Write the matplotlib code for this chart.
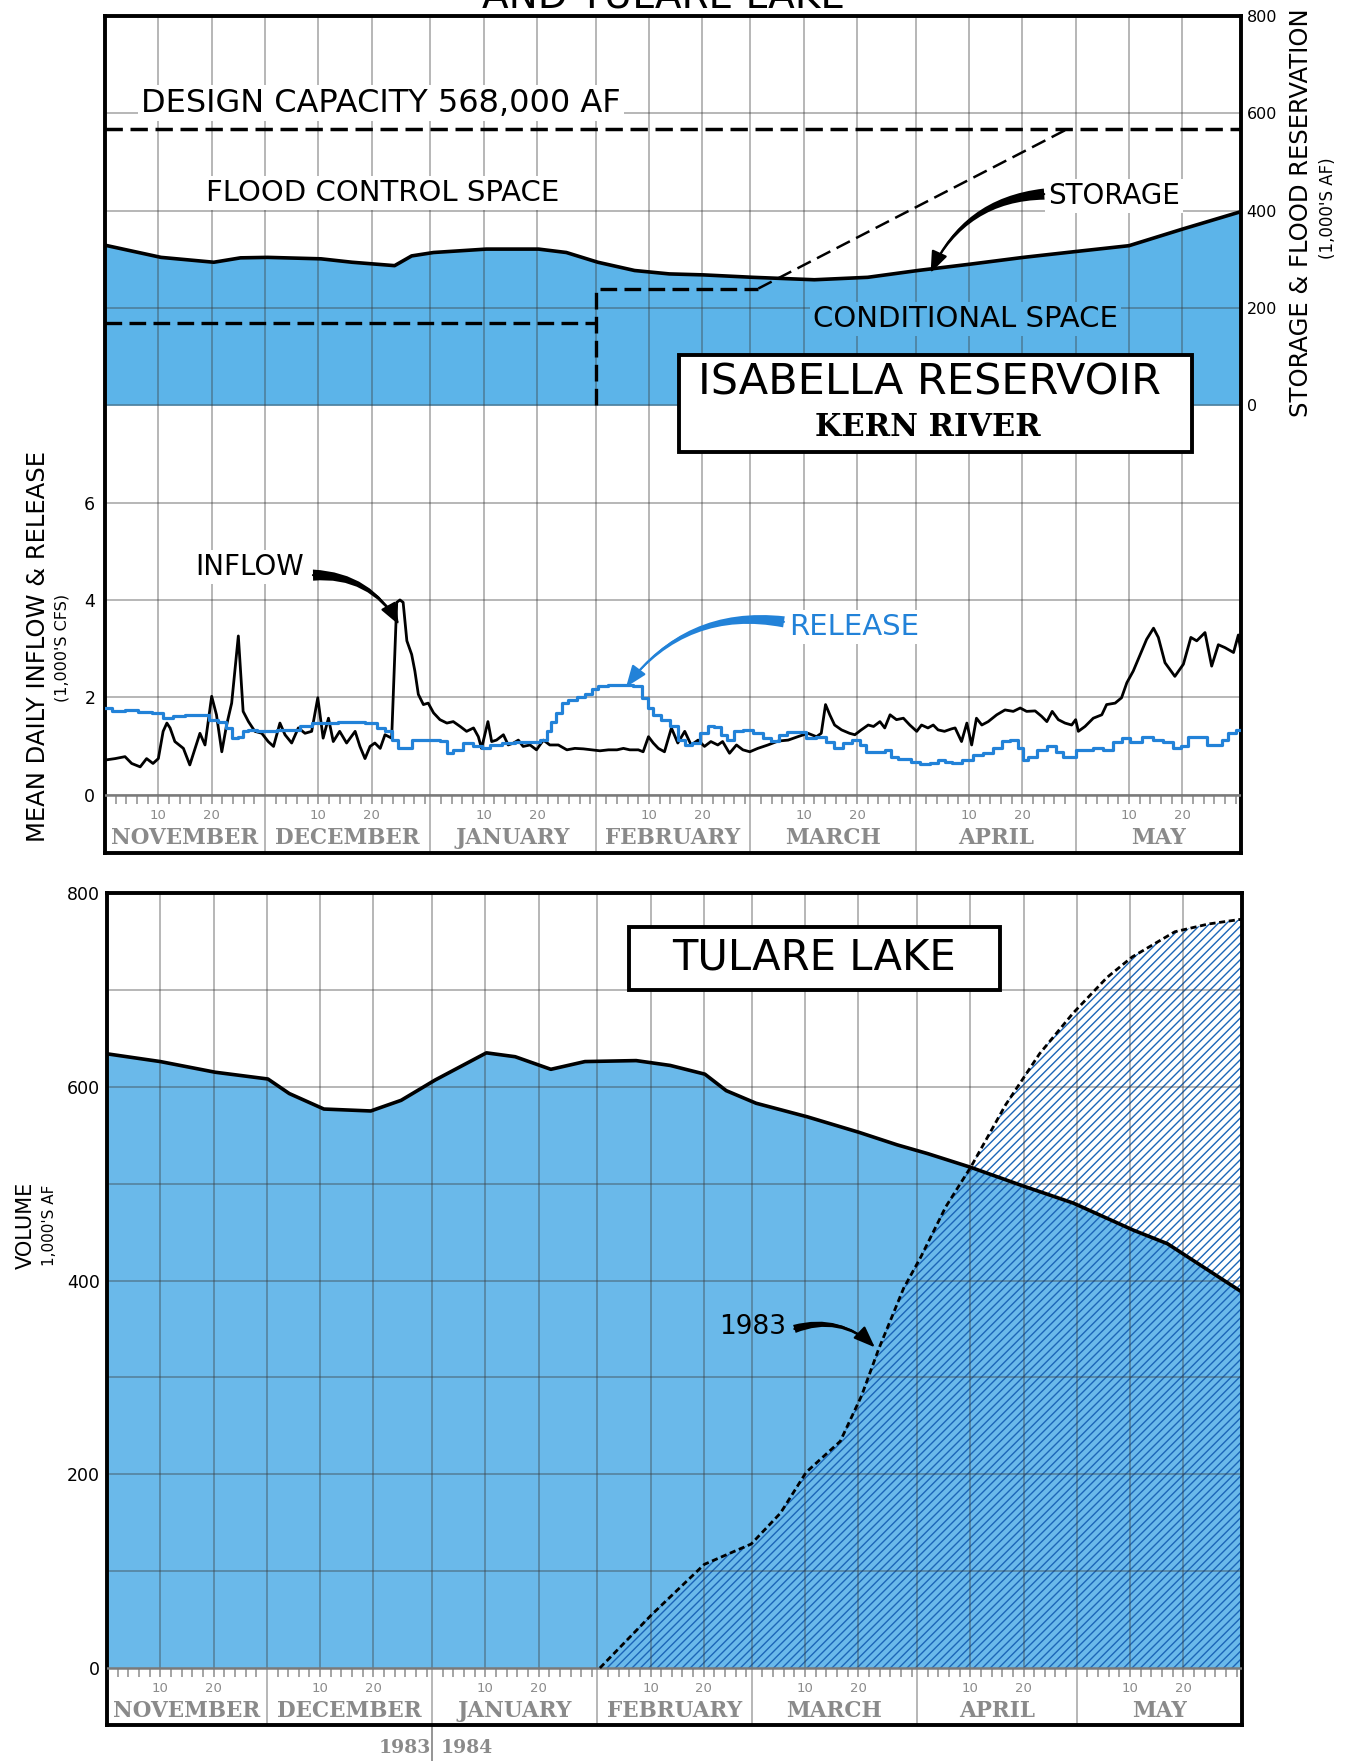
import numpy as np
import matplotlib
matplotlib.use("Agg")
import matplotlib.pyplot as plt
from matplotlib.patches import Rectangle

W, H = 1345, 1761
BLUE = "#5cb4e9"
BLUE2 = "#6ab9ea"
REL = "#2282d8"
HATCH = "#1c66b8"
GREY_TXT = "#8a8a8a"
GRID = dict(color="#3a3a3a", alpha=0.40, lw=1.3, zorder=2, solid_capstyle="butt")
plt.rcParams["font.family"] = "DejaVu Sans"
plt.rcParams["hatch.linewidth"] = 1.0

# water year 1983-84, day 0 = Nov 1 (Feb 1984 has 29 days)
MONTHS = ["NOVEMBER", "DECEMBER", "JANUARY", "FEBRUARY", "MARCH", "APRIL", "MAY"]
MONTH_DAYS = [30, 31, 31, 29, 31, 30, 31]

# Isabella storage, 1,000's AF
STOR_DAY = [0, 10.5, 20.4, 25.4, 30.5, 40.5, 46.3, 54.3, 57.5, 61.6, 71.5, 81.3, 86.5, 92.4,
            99.3, 105.8, 112.2, 121.5, 133, 143, 152.4, 162.2, 172.2, 182, 192, 202, 213]
STORAGE = [329, 304, 294, 303, 304, 301, 294, 287, 307, 314, 321, 321, 314, 294,
           277, 270, 268, 263, 258, 263, 277, 290, 304, 316, 328, 362, 398]

# flood reservation lines, 1,000's AF
DESIGN_CAP = 568
RES_A_DAY, RES_A = [0, 92], [170, 170]
RES_B_DAY, RES_B = [92, 92, 122.5], [0, 240, 240]
RES_C_DAY, RES_C = [122.5, 180.5], [240, 568]

# mean daily inflow, 1,000's cfs
INFLOW_DAY = [0, 1.9, 3.75, 5, 6.6, 7.8, 9, 10, 10.9, 11.6, 12.2, 13.1, 14.7, 15.9, 16.9, 17.8,
              18.75, 20, 20.9, 21.9, 22.8, 23.75, 25, 25.9, 26.9, 28.1, 29.4, 30.6, 31.6, 32.8,
              33.75, 35, 36.25, 37.5, 38.75, 39.9, 40.9, 41.9, 42.8, 44, 45.3, 46.9, 47.8, 48.75,
              49.7, 50.6, 51.6, 52.5,
              53.75, 54.7, 55.3, 55.9, 56.6, 57.5, 58.1, 58.75, 59.7, 60.6, 61.6, 62.8, 64.1,
              65.3, 66.6, 67.8, 69.1, 70, 70.6, 71.8, 72.5, 73.4, 74.7, 75.6, 76.6, 77.5, 78.4,
              79.7, 80.9, 82.2, 83.4, 85, 86.6, 88.1, 89.7, 91.25, 92.8, 94.4, 96, 97.2, 98.4,
              100, 100.9, 101.9, 102.8, 103.75, 104.9,
              106.2, 107.4, 108.7, 109.9, 111.2, 112.4, 113.6, 114.9, 115.8, 117.1, 118.4, 119.6,
              120.9, 122.4, 124.3, 126.2, 128.1, 129.9, 131.8, 133.4, 134.3, 135.1, 135.9, 136.8,
              138.1, 139.6, 140.6, 141.8, 143.1, 144.1, 145.3, 146.2, 147.2, 148.4, 149.7, 150.9,
              152.2, 153.1, 154.3, 155.3, 156.2, 157.4, 158.7,
              159.4, 160.6, 161.6, 162.5, 163.4, 164.4, 165.6, 167.2, 168.75, 170.3, 171.6, 172.8,
              174.4, 175.6, 176.6, 177.6, 178.75, 180, 181.25, 182, 182.5, 183.75, 185.3, 186.9,
              187.8, 189.4, 190.6, 191.6, 192.8, 194.1, 195.3, 196.6, 197.5, 198.75, 200.6, 202.2,
              203.6, 204.7, 206.25, 207.5, 208.75, 210, 211.6, 212.5, 213]
INFLOW = [0.71, 0.74, 0.78, 0.64, 0.57, 0.74, 0.64, 0.74, 1.30, 1.47, 1.37, 1.09, 0.95, 0.61, 0.95,
          1.26, 1.02, 2.02, 1.64, 0.88, 1.43, 1.88, 3.26, 1.71, 1.50, 1.30, 1.26, 1.09, 0.99, 1.47,
          1.23, 1.06, 1.37, 1.26, 1.30, 1.99, 1.16, 1.57, 1.09, 1.30, 1.06, 1.30, 0.99, 0.74, 0.99,
          1.06, 0.95, 1.23,
          1.16, 3.95, 4.0, 3.95, 3.16, 2.88, 2.54, 2.06, 1.85, 1.88, 1.68, 1.54, 1.47, 1.50, 1.40,
          1.30, 1.37, 1.19, 0.95, 1.50, 1.09, 1.12, 1.23, 1.02, 1.06, 1.12, 0.99, 1.02, 0.92, 1.12,
          1.02, 1.02, 0.92, 0.95, 0.94, 0.92, 0.90, 0.92, 0.92, 0.95, 0.92, 0.92, 0.88, 1.19, 1.06,
          0.95, 0.88,
          1.37, 1.06, 1.30, 1.02, 1.12, 0.99, 1.09, 1.02, 1.09, 0.85, 1.02, 0.92, 0.88, 0.95, 1.02,
          1.10, 1.12, 1.19, 1.26, 1.19, 1.26, 1.85, 1.64, 1.43, 1.33, 1.26, 1.23, 1.33, 1.43, 1.40,
          1.50, 1.37, 1.64, 1.54, 1.57, 1.43, 1.30, 1.43, 1.37, 1.43, 1.33, 1.30, 1.35,
          1.37, 1.09, 1.47, 1.02, 1.57, 1.43, 1.50, 1.64, 1.74, 1.71, 1.78, 1.71, 1.72, 1.61, 1.50,
          1.71, 1.54, 1.47, 1.43, 1.54, 1.30, 1.40, 1.57, 1.64, 1.85, 1.88, 1.99, 2.30, 2.54, 2.88,
          3.19, 3.42, 3.23, 2.71, 2.43, 2.68, 3.23, 3.16, 3.33, 2.64, 3.08, 3.02, 2.92, 3.28, 2.92]

# mean daily release, 1,000's cfs
RELEASE_DAY = [0, 2.5, 5, 7.5, 10, 11.6, 13.75, 16.25, 18.75, 20.3, 21.9, 23.4, 24.4, 25.3, 26.3,
               27.5, 29.4, 31.25, 33.1, 35.6, 37.5, 40, 42.5, 45, 47.5, 50, 51.9,
               53.1, 54.4, 55.6, 56.9, 58.1, 60, 61.9, 63.75, 64.4, 66.25, 68.1, 70, 71.25, 73.1,
               75.6, 78.1, 80.6, 82.5, 83.1, 84.1, 85, 86.25, 87.5, 89.4, 90.6, 91.9, 93.1, 95.6,
               98.1, 100, 101.25, 102.2, 103.4, 105,
               106.8, 108.1, 109.3, 110.8, 112.4, 113.6, 114.9, 116.2, 117.1, 118.7, 120.6, 122.4,
               124.3, 125.6, 127.1, 128.7, 130.6, 132.4, 134.3, 135.9, 137.4, 139.3, 140.9, 142.1,
               143.4, 145.6, 146.8, 148.1, 149.3, 150.6, 151.8, 153.7, 155.6, 156.8, 158.1,
               159.4, 161.9, 163.75, 165.6, 167.5, 168.75, 170.6, 171.6, 172.5, 173.75, 175.6,
               177.5, 179.1, 180, 181.6, 182.5, 184.4, 186.25, 188.1, 190, 191.25, 193.1, 195.6,
               197.5, 199.4, 201, 202.5, 203.75, 205.6, 207.5, 208.75, 210, 211.25, 213]
RELEASE = [1.78, 1.71, 1.74, 1.70, 1.68, 1.57, 1.61, 1.64, 1.64, 1.54, 1.49, 1.37, 1.16, 1.19, 1.30,
           1.33, 1.30, 1.30, 1.33, 1.33, 1.40, 1.47, 1.47, 1.50, 1.50, 1.47, 1.37,
           1.30, 1.12, 0.95, 0.95, 1.12, 1.12, 1.12, 1.10, 0.85, 0.92, 1.06, 0.99, 0.95, 1.01,
           1.06, 1.08, 1.09, 1.12, 1.30, 1.50, 1.68, 1.88, 1.95, 2.00, 2.06, 2.16, 2.23, 2.26,
           2.26, 2.23, 1.99, 1.78, 1.64, 1.54,
           1.40, 1.12, 1.02, 1.06, 1.26, 1.40, 1.38, 1.23, 1.12, 1.30, 1.33, 1.26, 1.16, 1.10,
           1.23, 1.28, 1.28, 1.16, 1.19, 1.09, 0.95, 1.06, 1.12, 1.01, 0.88, 0.88, 0.92, 0.78,
           0.74, 0.74, 0.66, 0.62, 0.64, 0.71, 0.66,
           0.64, 0.71, 0.81, 0.85, 0.95, 1.10, 1.12, 0.95, 0.71, 0.78, 0.92, 0.99, 0.88, 0.78,
           0.78, 0.92, 0.92, 0.95, 0.92, 1.09, 1.16, 1.09, 1.19, 1.12, 1.09, 0.95, 0.99, 1.19,
           1.19, 1.02, 1.01, 1.12, 1.26, 1.33]

# Tulare Lake volume, 1,000's AF
T84_DAY = [0, 10, 20.3, 30.2, 34.2, 40.7, 49.5, 55.2, 61.6, 71.2, 76.6, 83.3, 89.7, 99.3, 105.7,
           112.2, 116.2, 121.8, 131.4, 141.1, 148.3, 154, 162, 171.7, 181.3, 192.6, 199, 213]
T84 = [634, 626, 615, 608, 593, 577, 575, 586, 607, 635, 631, 618, 626, 627, 622,
       613, 596, 583, 569, 553, 540, 531, 517, 498, 480, 452, 438, 388]
T83_DAY = [92.5, 102.2, 112.1, 120.9, 126.4, 131.2, 137.6, 141.6, 144.8, 149.5, 152.7, 157.4,
           162.2, 168.6, 175, 181.3, 187.7, 192.4, 200.4, 206.7, 213]
T83 = [0, 55, 107, 128, 160, 202, 234, 281, 329, 392, 424, 476,
       518, 581, 634, 676, 713, 734, 760, 768, 773]

NDAYS = sum(MONTH_DAYS)
STARTS = np.concatenate([[0], np.cumsum(MONTH_DAYS)])


def px_rect(left, top, right, bottom):
    return [left / W, 1 - bottom / H, (right - left) / W, (bottom - top) / H]


def fat_arrow(ax, tail, head, color, rad, width=0.8):
    ax.annotate("", xy=head, xytext=tail, zorder=7,
                arrowprops=dict(arrowstyle=f"wedge,tail_width={width},shrink_factor=0.45",
                                connectionstyle=f"arc3,rad={rad}", color=color, lw=0,
                                shrinkA=0, shrinkB=0))
    ax.annotate("", xy=head, xytext=tail, zorder=7,
                arrowprops=dict(arrowstyle="-|>,head_length=1.3,head_width=0.5",
                                connectionstyle=f"arc3,rad={rad}", color=color, lw=1.6,
                                shrinkA=0, shrinkB=0))


def month_band(ax, ppu, grid_ax=None, to_grid=lambda v: v, top=None):
    """ruler + day numbers + month names below the zero line; ppu = pixels per data unit"""
    g = grid_ax or ax
    lo = ax.get_ylim()[0]
    for s in STARTS[1:-1]:
        g.plot([s, s], [to_grid(lo), top], **GRID)
    for s, n, name in zip(STARTS[:-1], MONTH_DAYS, MONTHS):
        for d in (10, 20):
            g.plot([s + d, s + d], [to_grid(0), top], **GRID)
            ax.text(s + d, -21 / ppu, str(d), ha="center", va="center", fontsize=9.5,
                    color=GREY_TXT, zorder=3)
        ax.vlines(np.arange(s + 2, s + n, 2), -9 / ppu, 0, color="#8c8c8c", lw=1.1, zorder=3)
        ax.text(s + n / 2, -43 / ppu, name, ha="center", va="center", fontsize=15.5,
                family="DejaVu Serif", fontweight="bold", color=GREY_TXT, zorder=3)
    ax.axhline(0, color="#7a7a7a", lw=1.8, zorder=3)


fig = plt.figure(figsize=(W / 100, H / 100), dpi=100)

# ---------------- top panel: Isabella ----------------
FLOW_LIM = (-1.2, 16.0)
STOR_LIM = ((FLOW_LIM[0] - 8) * 100, (FLOW_LIM[1] - 8) * 100)
rect_top = px_rect(105, 16, 1241, 853)
ppu_top = (853 - 16) / (FLOW_LIM[1] - FLOW_LIM[0])

ax_s = fig.add_axes(rect_top)
ax_f = fig.add_axes(rect_top, sharex=ax_s)
ax_f.patch.set_visible(False)
ax_s.set_xlim(0, NDAYS)
ax_s.set_ylim(*STOR_LIM)
ax_f.set_ylim(*FLOW_LIM)

ax_s.fill_between(STOR_DAY, 0, STORAGE, color=BLUE, lw=0, zorder=1)
for v in (0, 200, 400, 600):
    ax_s.axhline(v, **GRID)
ax_s.plot(STOR_DAY, STORAGE, color="black", lw=2.6, zorder=5)
ax_s.axhline(DESIGN_CAP, color="black", lw=2.5, ls=(0, (5, 2.2)), zorder=4)
ax_s.plot(RES_A_DAY, RES_A, color="black", lw=2.4, ls=(0, (5, 2.2)), zorder=4)
ax_s.plot(RES_B_DAY, RES_B, color="black", lw=2.4, ls=(0, (5, 2.2)), zorder=4)
ax_s.plot(RES_C_DAY, RES_C, color="black", lw=1.8, ls=(0, (6, 2.8)), zorder=4)

white = dict(facecolor="white", edgecolor="none", pad=2)
ax_s.text(6.8, 621, "DESIGN CAPACITY 568,000 AF", fontsize=23, va="center", bbox=white, zorder=3)
ax_s.text(18.9, 437, "FLOOD CONTROL SPACE", fontsize=21, va="center", bbox=white, zorder=3)
ax_s.text(176.8, 430, "STORAGE", fontsize=20, va="center", bbox=white, zorder=3)
ax_s.text(132.8, 177, "CONDITIONAL SPACE", fontsize=21, va="center",
          bbox=dict(facecolor=BLUE, edgecolor="none", pad=2), zorder=3)
fat_arrow(ax_s, (176.1, 434), (154.8, 272), "black", 0.3)

for v in (0, 2, 4, 6):
    ax_f.axhline(v, **GRID)
month_band(ax_f, ppu_top, grid_ax=ax_s, to_grid=lambda f: (f - 8) * 100, top=STOR_LIM[1])
ax_f.plot(INFLOW_DAY, INFLOW, color="black", lw=2.0, zorder=5)
ax_f.plot(RELEASE_DAY, RELEASE, color=REL, lw=2.3, drawstyle="steps-mid", zorder=5)
ax_f.text(17, 4.68, "INFLOW", fontsize=20, va="center", bbox=white, zorder=6)
fat_arrow(ax_f, (39, 4.51), (55.1, 3.49), "black", -0.3)
ax_f.text(128.3, 3.44, "RELEASE", fontsize=21, va="center", color=REL, bbox=white, zorder=6)
fat_arrow(ax_f, (127.3, 3.55), (97.7, 2.21), REL, 0.3)

ax_f.add_patch(Rectangle((107.6, 7.04), 96.2, 1.99, facecolor="white", edgecolor="black",
                         lw=2.8, zorder=8))
ax_f.text(154.6, 8.46, "ISABELLA RESERVOIR", fontsize=31, ha="center", va="center", zorder=9)
ax_f.text(154.3, 7.55, "KERN RIVER", fontsize=22, family="DejaVu Serif", fontweight="bold",
          ha="center", va="center", zorder=9)

for sp in ax_s.spines.values():
    sp.set_visible(False)
for sp in ax_f.spines.values():
    sp.set_linewidth(2.8)
ax_s.set_xticks([])
ax_f.set_xticks([])
ax_f.set_yticks([0, 2, 4, 6])
ax_f.tick_params(axis="y", length=0, pad=7, labelsize=12.5)
ax_s.set_yticks([0, 200, 400, 600, 800])
ax_s.tick_params(axis="y", left=False, labelleft=False, right=False, labelright=True,
                 length=0, pad=4, labelsize=11.5)

fig.text(38 / W, 1 - 647 / H, "MEAN DAILY INFLOW & RELEASE", rotation=90, fontsize=17.5,
         ha="center", va="center")
fig.text(62 / W, 1 - 648 / H, "(1,000'S CFS)", rotation=90, fontsize=11.5,
         ha="center", va="center")
fig.text(1301 / W, 1 - 213 / H, "STORAGE & FLOOD RESERVATION", rotation=90, fontsize=17.5,
         ha="center", va="center")
fig.text(1328 / W, 1 - 208 / H, "(1,000'S AF)", rotation=90, fontsize=12,
         ha="center", va="center")
# running title, cut by the top edge as in the source scan
fig.text(663 / W, 1 - 7 / H, "AND TULARE LAKE", fontsize=28, ha="center", va="baseline")

# ---------------- bottom panel: Tulare Lake ----------------
VOL_LIM = (-(1725 - 1668) / (775 / 800), 800)
rect_bot = px_rect(107, 893, 1242, 1725)
ppu_bot = (1725 - 893) / (VOL_LIM[1] - VOL_LIM[0])

ax_b = fig.add_axes(rect_bot)
ax_b.set_xlim(0, NDAYS)
ax_b.set_ylim(*VOL_LIM)
ax_b.fill_between(T84_DAY, 0, T84, color=BLUE2, lw=0, zorder=1)
ax_b.fill_between(T83_DAY, 0, T83, facecolor="none", edgecolor=HATCH, hatch="////", lw=0,
                  zorder=1.5)
for v in range(100, 800, 100):
    ax_b.axhline(v, **GRID)
month_band(ax_b, ppu_bot, top=VOL_LIM[1])
ax_b.plot(T84_DAY, T84, color="black", lw=2.6, zorder=5)
ax_b.plot(T83_DAY, T83, color="black", lw=2.0, ls=(0, (2.2, 1.3)), zorder=5)

ax_b.add_patch(Rectangle((97.9, 700), 69.6, 65, facecolor="white", edgecolor="black",
                         lw=2.8, zorder=8))
ax_b.text(132.7, 733, "TULARE LAKE", fontsize=30, ha="center", va="center", zorder=9)
ax_b.text(127.4, 352, "1983", fontsize=19, ha="right", va="center", zorder=6)
fat_arrow(ax_b, (129, 350), (144.1, 331), "black", -0.3, width=0.6)

jan1 = STARTS[2]
ax_b.plot([jan1, jan1], [VOL_LIM[0], VOL_LIM[0] - 40 / ppu_bot], color="#8c8c8c", lw=1.3,
          clip_on=False)
fig.text(431 / W, 1 - 1748 / H, "1983", fontsize=13.5, family="DejaVu Serif",
         fontweight="bold", color=GREY_TXT, ha="right", va="center")
fig.text(441 / W, 1 - 1748 / H, "1984", fontsize=13.5, family="DejaVu Serif",
         fontweight="bold", color=GREY_TXT, ha="left", va="center")

for sp in ax_b.spines.values():
    sp.set_linewidth(2.8)
ax_b.set_xticks([])
ax_b.set_yticks([0, 200, 400, 600, 800])
ax_b.tick_params(axis="y", length=0, pad=5, labelsize=12.5)
fig.text(26 / W, 1 - 1225 / H, "VOLUME", rotation=90, fontsize=15, ha="center", va="center")
fig.text(50 / W, 1 - 1225 / H, "1,000'S AF", rotation=90, fontsize=11,
         ha="center", va="center")

fig.savefig("out.png", dpi=100, facecolor="white")
